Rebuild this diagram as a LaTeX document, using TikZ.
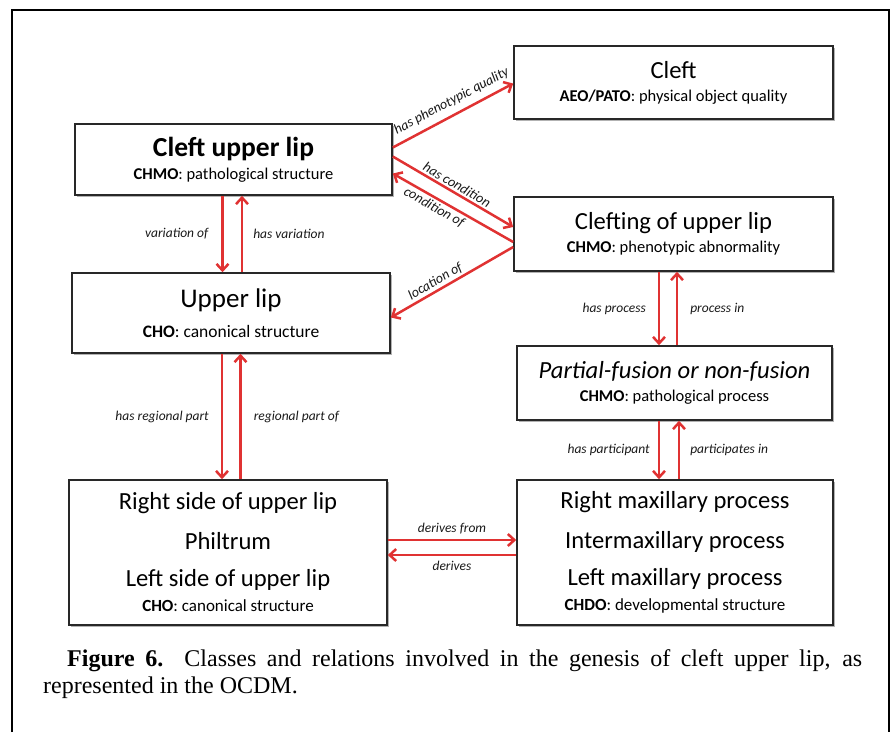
\documentclass[tikz,border=0pt]{standalone}
\usepackage{fontspec}
\setmainfont{Liberation Serif}
\setsansfont{Carlito}
\usetikzlibrary{positioning, arrows.meta, shadows}

\definecolor{relred}{RGB}{224,50,50}
\definecolor{boxline}{RGB}{40,40,40}
\newcommand{\classname}[1]{{\fontsize{24.6}{23}\selectfont #1}}
\newcommand{\ontosrc}[2]{{\textbf{#1}: #2}}

\begin{document}
\begin{tikzpicture}[x=1pt, y=-1pt,
	classbox/.style={draw=boxline, line width=1.6pt, fill=white, align=center, inner sep=0pt,
		font=\sffamily\fontsize{16.5}{23}\selectfont,
		drop shadow={shadow xshift=1.5pt, shadow yshift=-1.5pt, fill=black!60, opacity=0.5}},
	rel/.style={draw=relred, line width=2.5pt, -{Straight Barb[length=6.5pt, width=12pt]}},
	rellabel/.style={font=\sffamily\itshape\fontsize{13.5}{16}\selectfont, text=black!90, inner sep=2pt},
	slopelabel/.style={rellabel, font=\sffamily\itshape\fontsize{14}{16}\selectfont, sloped}
	]
	\useasboundingbox (0,0) rectangle (891,732);
	\draw[line width=2.2pt] (12,732) -- (12,10) -- (889,10) -- (889,732);

	\node[classbox, minimum width=317pt, minimum height=71pt] (cleftlip) at (233.5,159.5)
		{{\bfseries\fontsize{27.5}{23}\selectfont Cleft upper lip}\\ \ontosrc{CHMO}{pathological structure}};
	\node[classbox, minimum width=319pt, minimum height=73pt] (cleft) at (673.5,82.5)
		{\classname{Cleft}\\ \ontosrc{AEO/PATO}{physical object quality}};
	\node[classbox, minimum width=319pt, minimum height=74pt] (clefting) at (673.5,234)
		{\classname{Clefting of upper lip}\\ \ontosrc{CHMO}{phenotypic abnormality}};
	\node[classbox, minimum width=318pt, minimum height=80pt, font=\sffamily\fontsize{17.5}{23}\selectfont] (upperlip) at (231,313)
		{{\fontsize{27}{23}\selectfont Upper lip}\\[7pt] \ontosrc{CHO}{canonical structure}};
	\node[classbox, minimum width=315pt, minimum height=74pt] (fusion) at (674.5,383)
		{\classname{\itshape Partial-fusion or non-fusion}\\ \ontosrc{CHMO}{pathological process}};
	\node[classbox, minimum width=318pt, minimum height=145pt, font=\sffamily\fontsize{17}{23}\selectfont] (lipparts) at (228,552.5)
		{\classname{Right side of upper lip}\\[17pt] \classname{Philtrum}\\[14pt]
		 \classname{Left side of upper lip}\\[2pt] \ontosrc{CHO}{canonical structure}};
	\node[classbox, minimum width=316pt, minimum height=145pt, font=\sffamily\fontsize{17}{23}\selectfont] (maxproc) at (675,552.5)
		{\classname{Right maxillary process}\\[17pt] \classname{Intermaxillary process}\\[14pt]
		 \classname{Left maxillary process}\\[2pt] \ontosrc{CHDO}{developmental structure}};

	\draw[rel] ([yshift=12pt]cleftlip.east) -- node[slopelabel, above=4pt, pos=0.54] {has phenotypic quality} ([yshift=-1pt]cleft.west);
	\draw[rel] ([yshift=3pt]cleftlip.east) -- node[slopelabel, above] {has condition} ([yshift=7pt]clefting.west);
	\draw[rel] ([yshift=-8pt]clefting.west) -- node[slopelabel, below, pos=0.62] {condition of} ([yshift=-14pt]cleftlip.east);
	\draw[rel] ([yshift=-13pt]clefting.west) -- node[slopelabel, above, pos=0.6] {location of} ([yshift=-4.5pt]upperlip.east);

	\draw[rel] ([xshift=-11pt]cleftlip.south) -- node[rellabel, left=11pt] {variation of} ([xshift=-11pt]cleftlip.south |- upperlip.north);
	\draw[rel] ([xshift=8.5pt]cleftlip.south |- upperlip.north) -- node[rellabel, right=8pt] {has variation} ([xshift=8.5pt]cleftlip.south);

	\draw[rel] ([xshift=-9pt]upperlip.south) -- node[rellabel, left=10pt] {has regional part} ([xshift=-9pt]upperlip.south |- lipparts.north);
	\draw[rel] ([xshift=9.5pt]upperlip.south |- lipparts.north) -- node[rellabel, right=10pt] {regional part of} ([xshift=9.5pt]upperlip.south);

	\draw[rel] ([xshift=-14.5pt]clefting.south) -- node[rellabel, left=10pt] {has process} ([xshift=-14.5pt]clefting.south |- fusion.north);
	\draw[rel] ([xshift=3.5pt]clefting.south |- fusion.north) -- node[rellabel, right=10pt] {process in} ([xshift=3.5pt]clefting.south);

	\draw[rel] ([xshift=-15.5pt]fusion.south) -- node[rellabel, left=6pt] {has participant} ([xshift=-15.5pt]fusion.south |- maxproc.north);
	\draw[rel] ([xshift=4.5pt]fusion.south |- maxproc.north) -- node[rellabel, right=8pt] {participates in} ([xshift=4.5pt]fusion.south);

	\draw[rel] ([yshift=12.5pt]lipparts.east) -- node[rellabel, above=3pt] {derives from} ([yshift=12.5pt]lipparts.east -| maxproc.west);
	\draw[rel] ([yshift=-2.5pt]lipparts.east -| maxproc.west) -- node[rellabel, below=3pt] {derives} ([yshift=-2.5pt]lipparts.east);

	\node[anchor=north west, text width=819pt, align=justify, inner sep=0pt,
		font=\fontsize{24}{27}\selectfont] (caption) at (43,649)
		{\hspace*{24pt}\textbf{Figure 6.}\ \ Classes and relations involved in the genesis of cleft upper lip, as \mbox{represented} in the OCDM.};
\end{tikzpicture}
\end{document}
